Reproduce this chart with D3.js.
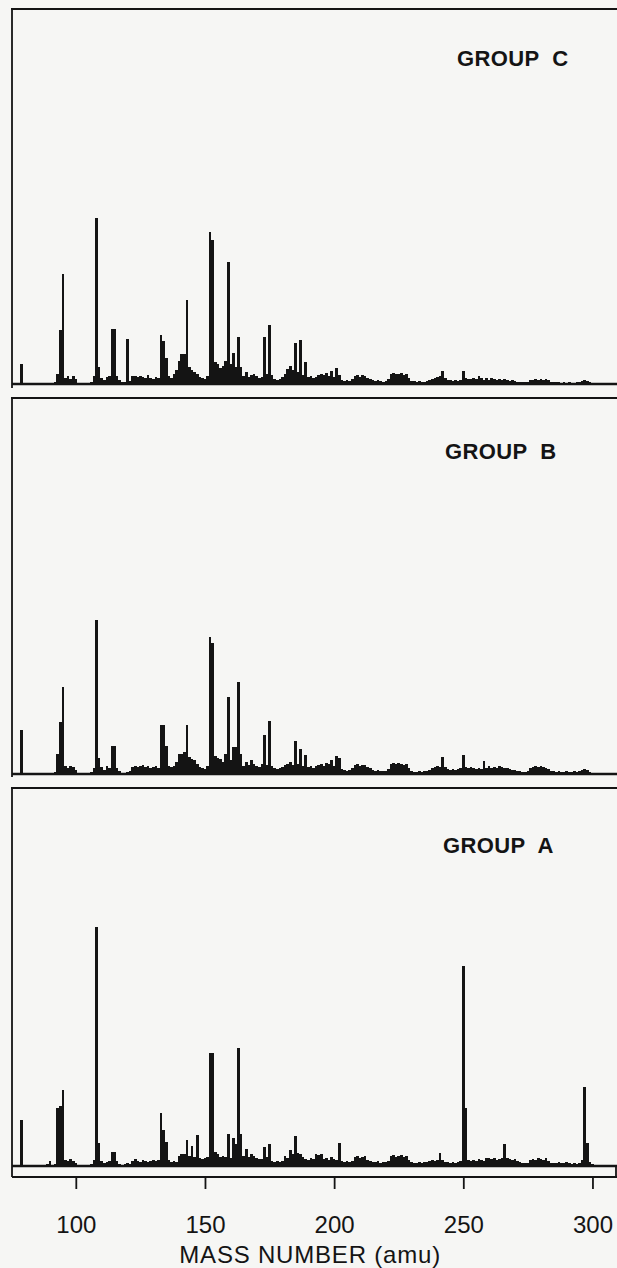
<!DOCTYPE html>
<html>
<head>
<meta charset="utf-8">
<script src="https://cdn.jsdelivr.net/npm/d3@7"></script>
<style>
  html, body { margin: 0; padding: 0; background: #f6f6f4; }
  svg { display: block; }
  text { font-family: "Liberation Sans", Arial, Helvetica, sans-serif; fill: #141414; }
</style>
</head>
<body>
<svg id="chart" width="617" height="1268"></svg>
<script>
// ---------------- DATA ----------------
// Intensities (arbitrary units) per integer mass number, starting at massStart.
const massStart = 76;

const groupC = [
  0,0,0,20,0,0,0,0,0,0,          // 76-85
  0,0,0,0,0,0,2,10,54,110,       // 86-95
  6,8,5,8,5,1,1,1,1,1,           // 96-105
  2,8,166,17,6,4,7,8,55,55,      // 106-115
  8,4,2,2,45,3,8,8,7,8,          // 116-125
  7,6,9,6,5,7,6,49,43,26,        // 126-135
  8,6,10,14,23,30,30,84,17,14,   // 136-145
  12,10,7,6,5,8,152,144,22,20,   // 146-155
  16,18,23,122,20,31,17,47,17,8, // 156-165
  12,7,9,10,8,6,7,47,10,59,      // 166-175
  9,5,4,5,7,10,15,18,14,41,      // 176-185
  12,44,9,22,7,8,6,7,9,10,       // 186-195
  9,11,8,13,7,16,9,4,3,4,        // 196-205
  3,5,8,9,7,9,8,6,5,4,           // 206-215
  3,4,3,2,3,5,10,11,10,10,       // 216-225
  11,9,10,6,3,3,2,3,2,2,         // 226-235
  3,4,5,6,7,8,13,6,4,4,          // 236-245
  3,4,3,4,13,6,5,5,6,5,          // 246-255
  8,6,4,6,4,6,5,4,5,4,           // 256-265
  5,4,3,4,3,2,2,2,2,2,           // 266-275
  4,4,5,4,5,4,5,4,2,2,           // 276-285
  2,2,1,2,1,2,1,1,2,2,           // 286-295
  3,4,3,2,1,1,1,0,0,0,           // 296-305
  0                              // 306
];

const groupB = [
  0,0,0,44,0,0,0,0,0,0,          // 76-85
  0,0,0,0,0,0,2,20,52,87,        // 86-95
  8,6,8,7,4,1,1,1,1,1,           // 96-105
  2,6,154,16,7,4,8,6,28,28,      // 106-115
  6,3,1,1,2,3,7,8,7,8,           // 116-125
  9,7,8,6,7,8,6,49,49,28,        // 126-135
  8,7,8,12,20,20,22,49,17,15,    // 136-145
  14,10,7,6,5,8,137,131,18,16,   // 146-155
  15,12,20,77,14,27,27,92,20,8,  // 156-165
  12,9,14,10,8,7,10,39,9,53,     // 166-175
  8,6,5,6,7,9,10,12,9,33,        // 176-185
  10,25,8,19,7,8,6,8,9,10,       // 186-195
  8,11,10,14,8,18,16,5,4,3,      // 196-205
  4,6,9,10,8,9,9,7,6,4,          // 206-215
  3,4,3,3,3,5,10,11,10,11,       // 216-225
  10,9,10,6,3,2,2,3,2,3,         // 226-235
  3,4,6,7,8,7,17,7,5,4,          // 236-245
  5,4,5,6,19,7,6,7,6,5,          // 246-255
  6,5,13,6,8,6,7,6,8,7,          // 256-265
  6,6,5,4,4,3,3,2,2,3,           // 266-275
  6,7,8,7,8,7,6,5,3,3,           // 276-285
  2,3,2,2,3,2,2,3,2,3,           // 286-295
  4,5,4,2,1,1,1,0,0,0,           // 296-305
  0                              // 306
];

const groupA = [
  0,0,0,46,0,0,0,0,0,0,          // 76-85
  0,0,0,2,5,1,2,58,60,76,        // 86-95
  6,5,7,5,3,1,1,1,1,1,           // 96-105
  2,6,239,23,5,3,4,5,14,14,      // 106-115
  5,2,1,2,3,2,5,7,5,4,           // 116-125
  6,5,4,5,6,5,6,53,36,24,        // 126-135
  6,4,5,4,10,12,12,26,10,20,     // 136-145
  9,31,8,7,8,9,113,113,14,12,    // 146-155
  9,10,9,32,8,28,22,118,32,10,   // 156-165
  17,9,12,10,8,7,7,19,9,22,      // 166-175
  5,4,5,4,5,10,8,16,12,30,       // 176-185
  13,12,9,7,6,8,7,12,11,12,      // 186-195
  7,8,6,9,7,6,23,5,4,5,          // 196-205
  4,5,9,10,8,9,10,6,5,4,         // 206-215
  4,5,3,4,4,5,10,11,9,10,        // 216-225
  11,9,10,6,4,3,3,4,3,4,         // 226-235
  4,5,6,5,6,13,6,4,4,3,          // 236-245
  4,3,4,5,200,58,6,5,6,5,        // 246-255
  7,6,5,8,8,7,8,6,7,8,           // 256-265
  22,8,7,6,7,5,4,3,3,3,          // 266-275
  6,7,6,8,7,6,8,5,3,3,           // 276-285
  3,4,3,3,4,3,2,3,2,3,           // 286-295
  6,79,23,4,2,1,1,0,0,0,         // 296-305
  0                              // 306
];

const groupLabels = ["GROUP  C", "GROUP  B", "GROUP  A"];
const xTickValues = [100, 150, 200, 250, 300];
const xAxisTitle = "MASS NUMBER (amu)";

// ---------------- LAYOUT ----------------
const ink = "#141414";
const left = 12, right = 617;
const panels = [
  { data: groupC, label: groupLabels[0], top: 9,   base: 384,  bottom: 388,  lx: 457, ly: 66 },
  { data: groupB, label: groupLabels[1], top: 398, base: 774,  bottom: 777,  lx: 445, ly: 459 },
  { data: groupA, label: groupLabels[2], top: 788, base: 1166, bottom: 1177, lx: 443, ly: 853 }
];

const svg = d3.select("#chart");

const x = d3.scaleLinear().domain([75.3, 309.5]).range([left, right]);
const yMax = 375;

panels.forEach((p, i) => {
  const y = d3.scaleLinear().domain([0, yMax]).range([p.base, p.base - yMax]);
  const g = svg.append("g").attr("class", "panel-" + i);

  const pts = p.data.map((v, k) => ({ m: massStart + k, v }));

  g.selectAll("rect.bar")
    .data(pts.filter(d => d.v > 0))
    .join("rect")
    .attr("class", "bar")
    .attr("x", d => x(d.m - 0.5))
    .attr("width", d => x(d.m + 0.5) - x(d.m - 0.5))
    .attr("y", d => y(d.v))
    .attr("height", d => y(0) - y(d.v))
    .attr("fill", ink)
    .attr("shape-rendering", "crispEdges");

  // baseline
  g.append("line")
    .attr("x1", left).attr("x2", right)
    .attr("y1", y(0)).attr("y2", y(0))
    .attr("stroke", ink).attr("stroke-width", 2.4);

  // frame: top and left
  g.append("line")
    .attr("x1", left - 1).attr("x2", right)
    .attr("y1", p.top).attr("y2", p.top)
    .attr("stroke", ink).attr("stroke-width", 1.8);
  g.append("line")
    .attr("x1", left).attr("x2", left)
    .attr("y1", p.top).attr("y2", p.bottom)
    .attr("stroke", ink).attr("stroke-width", 1.8);

  g.append("text")
    .attr("x", p.lx).attr("y", p.ly)
    .attr("font-size", 22)
    .attr("font-weight", "bold")
    .attr("letter-spacing", 0.4)
    .style("white-space", "pre")
    .text(p.label);
});

// bottom axis of the lowest panel
const axisY = panels[2].bottom;
const axis = d3.axisBottom(x)
  .tickValues(xTickValues)
  .tickSize(12)
  .tickPadding(27)
  .tickFormat(d3.format("d"));

const ax = svg.append("g")
  .attr("transform", `translate(0,${axisY})`)
  .call(axis);
ax.select(".domain").attr("stroke", ink).attr("stroke-width", 1.8)
  .attr("d", `M${left},0H${right}`);
ax.selectAll(".tick line").attr("stroke", ink).attr("stroke-width", 1.8);
ax.selectAll(".tick text")
  .attr("font-size", 24)
  .attr("fill", ink)
  .style("font-family", "'Liberation Sans', Arial, sans-serif");

// right edge stub between baseline and axis
svg.append("line")
  .attr("x1", 616).attr("x2", 616)
  .attr("y1", panels[2].base).attr("y2", axisY)
  .attr("stroke", ink).attr("stroke-width", 1.8);

svg.append("text")
  .attr("x", x(200) - 24).attr("y", 1263)
  .attr("text-anchor", "middle")
  .attr("font-size", 24)
  .attr("letter-spacing", 0.8)
  .text(xAxisTitle);
</script>
</body>
</html>
